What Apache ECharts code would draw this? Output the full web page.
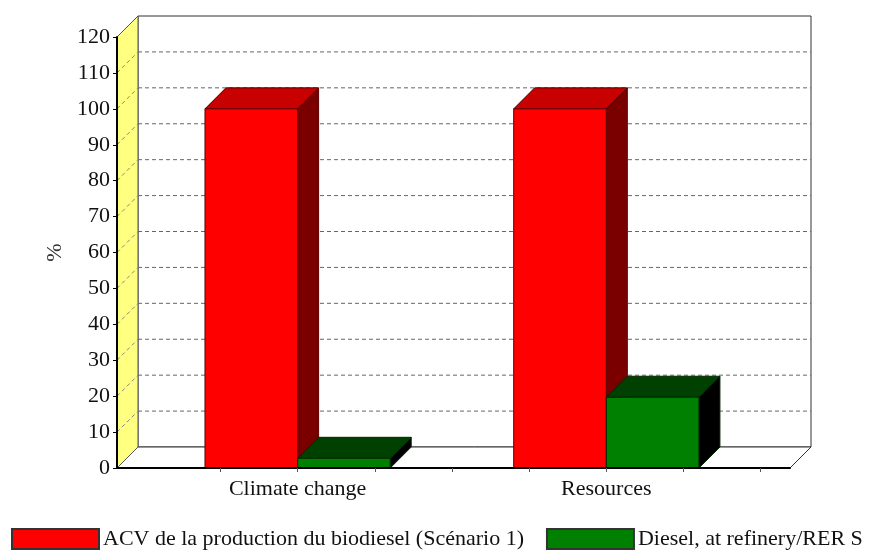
<!DOCTYPE html>
<html>
<head>
<meta charset="utf-8">
<script src="https://cdn.jsdelivr.net/npm/echarts@6/dist/echarts.min.js"></script>
<style>
  html, body { margin: 0; padding: 0; background: #fff; }
  #chart { width: 869px; height: 550px; }
</style>
</head>
<body>
<div id="chart"></div>
<script>
// Impact categories and relative scores (%)
const categories = ['Climate change', 'Resources'];
const seriesNames = ['ACV de la production du biodiesel (Scénario 1)', 'Diesel, at refinery/RER S'];
const biodieselValues = [100, 100];
const dieselValues = [2.7, 19.7];
const yMin = 0, yMax = 120, yStep = 10;

// Category i sits at x = i on a continuous axis; the extra room on each side holds the 3D floor
const X_MIN = -0.585, X_MAX = 1.595;
const BAR_W = 0.3;       // bar width in category units
const DEPTH = 21;        // 3D depth offset in pixels
const tickValues = [-0.25, 0, 0.25, 0.5, 0.75, 1, 1.25, 1.5];
const FONT = 'Liberation Serif';

const chart = echarts.init(document.getElementById('chart'), null, { renderer: 'canvas' });

// Back wall, yellow side wall, floor and dashed grid
function renderFrame(params, api) {
  const x0 = api.coord([X_MIN, yMin])[0];
  const x1 = api.coord([X_MAX, yMin])[0];
  const yb = api.coord([X_MIN, yMin])[1];
  const yt = api.coord([X_MIN, yMax])[1];
  const d = DEPTH;
  const children = [];
  children.push({
    type: 'polygon',
    shape: { points: [[x0 + d, yt - d], [x1 + d, yt - d], [x1 + d, yb - d], [x0 + d, yb - d]] },
    style: { fill: '#ffffff', stroke: '#333', lineWidth: 1 }
  });
  children.push({
    type: 'polygon',
    shape: { points: [[x0, yb], [x1, yb], [x1 + d, yb - d], [x0 + d, yb - d]] },
    style: { fill: '#ffffff', stroke: '#333', lineWidth: 1 }
  });
  children.push({
    type: 'polygon',
    shape: { points: [[x0, yb], [x0, yt], [x0 + d, yt - d], [x0 + d, yb - d]] },
    style: { fill: '#ffff80', stroke: '#555', lineWidth: 1 }
  });
  for (let v = yMin + yStep; v < yMax; v += yStep) {
    const y = api.coord([X_MIN, v])[1];
    children.push({
      type: 'line',
      shape: { x1: x0 + d, y1: y - d, x2: x1 + d, y2: y - d },
      style: { stroke: '#666', lineWidth: 1, lineDash: [4, 3] }
    });
    children.push({
      type: 'line',
      shape: { x1: x0, y1: y, x2: x0 + d, y2: y - d },
      style: { stroke: '#888', lineWidth: 1, lineDash: [4, 3] }
    });
  }
  return { type: 'group', children: children };
}

// 3D box bar: front, top and side faces
function makeBarRenderer(offset, colors) {
  return function (params, api) {
    const x = api.value(0) + offset;
    const top = api.coord([x, api.value(1)]);
    const base = api.coord([x, yMin]);
    const w = api.size([BAR_W, 0])[0];
    const xl = top[0] - w / 2, xr = top[0] + w / 2;
    const yt = top[1], yb = base[1];
    const d = DEPTH;
    return {
      type: 'group',
      children: [
        {
          type: 'polygon',
          shape: { points: [[xr, yt], [xr + d, yt - d], [xr + d, yb - d], [xr, yb]] },
          style: { fill: colors.side, stroke: colors.edge, lineWidth: 1 }
        },
        {
          type: 'polygon',
          shape: { points: [[xl, yt], [xr, yt], [xr + d, yt - d], [xl + d, yt - d]] },
          style: { fill: colors.top, stroke: colors.edge, lineWidth: 1 }
        },
        {
          type: 'rect',
          shape: { x: xl, y: yt, width: xr - xl, height: yb - yt },
          style: { fill: colors.front, stroke: colors.edge, lineWidth: 1 }
        }
      ]
    };
  };
}

const redFaces = { front: '#ff0000', top: '#c80000', side: '#7a0000', edge: '#5a0000' };
const greenFaces = { front: '#008000', top: '#004000', side: '#000000', edge: '#002800' };

const option = {
  backgroundColor: '#ffffff',
  animation: false,
  grid: { left: 117, right: 79, top: 37, bottom: 82 },
  xAxis: {
    type: 'value',
    min: X_MIN,
    max: X_MAX,
    z: 5,
    splitLine: { show: false },
    axisLine: { show: true, onZero: false, lineStyle: { color: '#000', width: 2 } },
    axisTick: { show: true, length: 4, customValues: tickValues, lineStyle: { color: '#555' } },
    axisLabel: {
      customValues: [0, 1],
      formatter: function (v) { return categories[Math.round(v)]; },
      fontFamily: FONT, fontSize: 22, color: '#111', margin: 10
    }
  },
  yAxis: {
    type: 'value',
    min: yMin,
    max: yMax,
    interval: yStep,
    z: 5,
    name: '%',
    nameLocation: 'middle',
    nameGap: 47,
    nameTextStyle: { fontFamily: FONT, fontSize: 22, color: '#333' },
    splitLine: { show: false },
    axisLine: { show: true, onZero: false, lineStyle: { color: '#000', width: 2 } },
    axisTick: { show: true, length: 4, lineStyle: { color: '#000' } },
    axisLabel: { fontFamily: FONT, fontSize: 22, color: '#111', margin: 7 }
  },
  legend: {
    data: seriesNames,
    left: 11,
    top: 528,
    padding: 0,
    icon: 'rect',
    itemWidth: 87,
    itemHeight: 20,
    itemGap: 22,
    textStyle: { fontFamily: FONT, fontSize: 22, color: '#111', padding: [0, 0, 0, -1] }
  },
  series: [
    {
      type: 'custom',
      name: 'frame',
      silent: true,
      z: 1,
      renderItem: renderFrame,
      data: [[0, 0]]
    },
    {
      type: 'custom',
      name: seriesNames[0],
      z: 2,
      itemStyle: { color: '#ff0000', borderColor: '#333', borderWidth: 1 },
      renderItem: makeBarRenderer(-BAR_W / 2, redFaces),
      data: categories.map((c, i) => [i, biodieselValues[i]])
    },
    {
      type: 'custom',
      name: seriesNames[1],
      z: 3,
      itemStyle: { color: '#008000', borderColor: '#333', borderWidth: 1 },
      renderItem: makeBarRenderer(BAR_W / 2, greenFaces),
      data: categories.map((c, i) => [i, dieselValues[i]])
    }
  ]
};

chart.setOption(option);
</script>
</body>
</html>
